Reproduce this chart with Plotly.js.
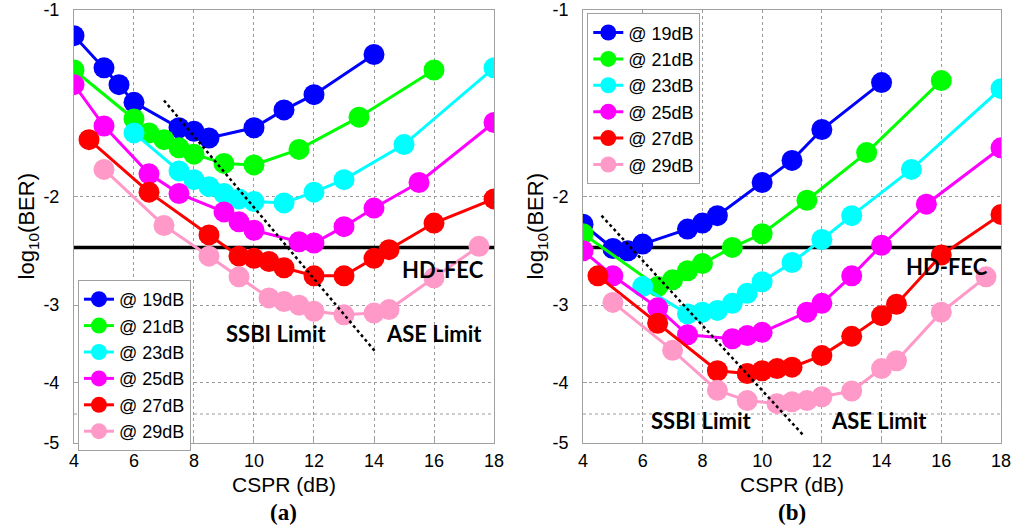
<!DOCTYPE html>
<html><head><meta charset="utf-8">
<script src="https://cdn.plot.ly/plotly-3.0.1.min.js"></script>
<style>html,body{margin:0;padding:0;background:#fff}#plot{width:1015px;height:531px}</style>
</head><body><div id="plot"></div>
<script>
// ---- Data: log10(BER) vs CSPR (dB) ----
const seriesNames = ['@ 19dB','@ 21dB','@ 23dB','@ 25dB','@ 27dB','@ 29dB'];
const colors = ['#0000FF','#00FF00','#00FFFF','#FF00FF','#FF0000','#FF99C8'];

// Panel (a)
const a19x = [4,5,5.5,6,7.5,8,8.5,10,11,12,14];
const a19y = [-1.10,-1.24,-1.32,-1.41,-1.55,-1.57,-1.61,-1.55,-1.45,-1.37,-1.18];
const a21x = [4,6,6.5,7,7.5,8,9,10,11.5,13.5,16];
const a21y = [-1.25,-1.50,-1.58,-1.62,-1.67,-1.71,-1.77,-1.78,-1.68,-1.49,-1.25];
const a23x = [6,7.5,8,8.5,9,9.5,10,11,12,13,15,18];
const a23y = [-1.58,-1.82,-1.88,-1.93,-1.98,-2.02,-2.04,-2.05,-1.97,-1.88,-1.65,-1.24];
const a25x = [4,5,6.5,7.5,9,9.5,10,11.5,12,13,14,15.5,18];
const a25y = [-1.32,-1.54,-1.84,-1.98,-2.12,-2.20,-2.27,-2.37,-2.38,-2.24,-2.09,-1.90,-1.52];
const a27x = [4.5,6.5,8.5,9.5,10,10.5,11,12,13,14,14.5,16,18];
const a27y = [-1.62,-1.97,-2.31,-2.50,-2.52,-2.55,-2.61,-2.69,-2.69,-2.52,-2.44,-2.21,-2.02];
const a29x = [5,7,8.5,9.5,10.5,11,11.5,12,13,14,14.5,16,17.5];
const a29y = [-1.81,-2.23,-2.50,-2.70,-2.92,-2.96,-3.00,-3.07,-3.11,-3.09,-3.05,-2.71,-2.41];

// Panel (b)
const b19x = [4,5,5.5,6,7.5,8,8.5,10,11,12,14];
const b19y = [-2.22,-2.43,-2.45,-2.39,-2.26,-2.21,-2.15,-1.90,-1.75,-1.56,-1.31];
const b21x = [4,6.5,7,7.5,8,9,10,11.5,13.5,16];
const b21y = [-2.30,-2.80,-2.73,-2.64,-2.57,-2.42,-2.30,-2.03,-1.70,-1.30];
const b23x = [6,7.5,8,8.5,9,9.5,10,11,12,13,15,18];
const b23y = [-2.80,-3.10,-3.08,-3.06,-2.98,-2.87,-2.75,-2.56,-2.35,-2.15,-1.81,-1.34];
const b25x = [4,5,6.5,7.5,9,9.5,10,11.5,12,13,14,15.5,18];
const b25y = [-2.45,-2.69,-3.03,-3.35,-3.40,-3.36,-3.32,-3.08,-2.98,-2.69,-2.40,-2.06,-1.67];
const b27x = [4.5,6.5,8.5,9.5,10,10.5,11,12,13,14,14.5,16,18];
const b27y = [-2.69,-3.21,-3.83,-3.87,-3.83,-3.80,-3.78,-3.62,-3.37,-3.12,-2.99,-2.49,-2.14];
const b29x = [5,7,8.5,9.5,10.5,11,11.5,12,13,14,14.5,16,17.5];
const b29y = [-2.97,-3.55,-4.12,-4.28,-4.33,-4.30,-4.28,-4.22,-4.13,-3.80,-3.69,-3.08,-2.70];

const hdFec = -2.42;
const minorGrid = -4.5;
const aLimitX = [7, 14.07];  const aLimitY = [-1.40, -3.58];
const bLimitX = [4.62, 11.38]; const bLimitY = [-2.15, -4.87];

const yTickVals = [-1,-2,-3,-4,-5];
const yTickText = ['-1','-2','-3','-4','-5'];
const xTickVals = [4,6,8,10,12,14,16,18];

// ---- Build traces ----
const aX=[a19x,a21x,a23x,a25x,a27x,a29x], aY=[a19y,a21y,a23y,a25y,a27y,a29y];
const bX=[b19x,b21x,b23x,b25x,b27x,b29x], bY=[b19y,b21y,b23y,b25y,b27y,b29y];
const neg = arr => arr.map(v => -v);   // plot |log10(BER)| on a reversed log axis
const traces = [];
function addPanel(X, Y, xa, ya, leg, limX, limY){
  traces.push({x:[4,18], y:neg([minorGrid,minorGrid]), xaxis:xa, yaxis:ya, mode:'lines',
    line:{color:'#9a9a9a',width:1,dash:'dot'}, showlegend:false, hoverinfo:'skip'});
  traces.push({x:[4,18], y:neg([hdFec,hdFec]), xaxis:xa, yaxis:ya, mode:'lines',
    line:{color:'#000',width:3.5}, showlegend:false, hoverinfo:'skip'});
  for(let i=0;i<6;i++){
    traces.push({x:X[i], y:neg(Y[i]), xaxis:xa, yaxis:ya, name:seriesNames[i], legend:leg,
      mode:'lines+markers', line:{color:colors[i],width:3},
      marker:{color:colors[i],size:21}});
  }
  traces.push({x:limX, y:neg(limY), xaxis:xa, yaxis:ya, mode:'lines',
    line:{color:'#000',width:2.5,dash:'dot'}, showlegend:false, hoverinfo:'skip'});
}
addPanel(aX,aY,'x','y','legend',aLimitX,aLimitY);
addPanel(bX,bY,'x2','y2','legend2',bLimitX,bLimitY);

const tickFont = {family:'Liberation Sans, Arial, sans-serif', size:18, color:'#000'};
function xAxis(domain, anchor){
  return {domain:domain, anchor:anchor, range:[4,18], tickvals:xTickVals, showgrid:true,
    gridcolor:'#9a9a9a', griddash:'dot', gridwidth:1, zeroline:false, showline:true, mirror:true,
    linecolor:'#a0a0a0', linewidth:1, ticks:'inside', ticklen:4, tickcolor:'#a0a0a0',
    tickfont:tickFont, ticklabelstandoff:2,
    title:{text:'CSPR (dB)', font:{family:'Liberation Sans, Arial, sans-serif', size:21, color:'#000'}, standoff:6}};
}
function yAxis(anchor){
  return {domain:[0.166,0.982], anchor:anchor, type:'log', range:[Math.log10(5.01), Math.log10(0.998)],
    tickvals:neg(yTickVals), ticktext:yTickText, showgrid:true,
    gridcolor:'#9a9a9a', griddash:'dot', gridwidth:1, zeroline:false, showline:true, mirror:true,
    linecolor:'#a0a0a0', linewidth:1, ticks:'inside', ticklen:4, tickcolor:'#a0a0a0',
    tickfont:tickFont, ticklabelstandoff:10,
    title:{text:'log<sub>10</sub>(BER)', font:{family:'Liberation Sans, Arial, sans-serif', size:22, color:'#000'}, standoff:2}};
}
const lbl = {family:'Lato, Carlito, sans-serif', size:22, color:'#000', weight:'bold'};
function ann(xref,yref,x,yv,text){
  return {xref:xref, yref:yref, x:x, y:Math.log10(-yv), text:'<b>'+text+'</b>', showarrow:false,
    font:lbl, xanchor:'center', yanchor:'middle'};
}
const legStyle = {bgcolor:'#fff', bordercolor:'#a0a0a0', borderwidth:1,
  font:{family:'Liberation Sans, Arial, sans-serif', size:18, color:'#000'},
  xanchor:'left', yanchor:'top', tracegroupgap:0, itemwidth:30};

const layout = {
  width:1015, height:531, margin:{l:0,r:0,t:0,b:0}, paper_bgcolor:'#fff', plot_bgcolor:'#fff',
  showlegend:true,
  xaxis:xAxis([0.0729,0.4867],'y'), yaxis:yAxis('x'),
  xaxis2:xAxis([0.5744,0.9862],'y2'), yaxis2:yAxis('x2'),
  legend:Object.assign({x:0.0768, y:0.4727}, legStyle),
  legend2:Object.assign({x:0.5786, y:0.975}, legStyle),
  annotations:[
    ann('x','y',16.3,-2.63,'HD-FEC'),
    ann('x','y',10.76,-3.33,'SSBI Limit'),
    ann('x','y',16.0,-3.33,'ASE Limit'),
    ann('x2','y2',16.2,-2.6,'HD-FEC'),
    ann('x2','y2',7.97,-4.61,'SSBI Limit'),
    ann('x2','y2',13.9,-4.61,'ASE Limit'),
    {xref:'paper', yref:'paper', x:(0.0729+0.4867)/2, y:1-512/531, text:'<b>(a)</b>', showarrow:false,
     font:{family:'Liberation Serif, Times New Roman, serif', size:23, color:'#000'}, xanchor:'center', yanchor:'middle'},
    {xref:'paper', yref:'paper', x:(0.5744+0.9862)/2, y:1-512/531, text:'<b>(b)</b>', showarrow:false,
     font:{family:'Liberation Serif, Times New Roman, serif', size:23, color:'#000'}, xanchor:'center', yanchor:'middle'}
  ]
};
Plotly.newPlot('plot', traces, layout, {staticPlot:true, displayModeBar:false});
</script></body></html>
